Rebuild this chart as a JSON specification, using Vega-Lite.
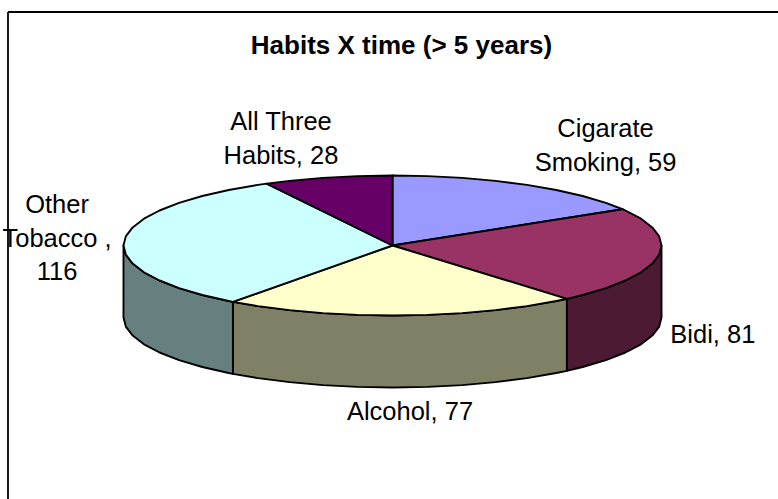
{
  "$schema": "https://vega.github.io/schema/vega-lite/v6.json",
  "width": 770.5,
  "height": 487.5,
  "padding": {"left": 7.5, "top": 11.5, "right": 0, "bottom": 0},
  "autosize": {"type": "none"},
  "background": "white",
  "config": {"view": {"stroke": null}},
  "title": {
    "text": "Habits X time (> 5 years)",
    "font": "Liberation Sans",
    "fontSize": 26,
    "fontWeight": "bold",
    "color": "black",
    "anchor": "middle",
    "frame": "group",
    "baseline": "alphabetic",
    "dx": 8.75,
    "dy": 25,
    "offset": -43.5
  },
  "datasets": {
    "outline": [
      {"piece":"Bidi wall","i":1,"x":1,"y":0},{"piece":"Bidi wall","i":2,"x":0.9914,"y":-0.1305},{"piece":"Bidi wall","i":3,"x":0.9659,"y":-0.2588},{"piece":"Bidi wall","i":4,"x":0.9239,"y":-0.3827},{"piece":"Bidi wall","i":5,"x":0.866,"y":-0.5},{"piece":"Bidi wall","i":6,"x":0.7934,"y":-0.6088},{"piece":"Bidi wall","i":7,"x":0.7071,"y":-0.7071},{"piece":"Bidi wall","i":8,"x":0.6481,"y":-0.7615},
      {"piece":"Bidi wall","i":9,"x":0.6481,"y":-1.7901},{"piece":"Bidi wall","i":10,"x":0.7071,"y":-1.7357},{"piece":"Bidi wall","i":11,"x":0.7934,"y":-1.6374},{"piece":"Bidi wall","i":12,"x":0.866,"y":-1.5286},{"piece":"Bidi wall","i":13,"x":0.9239,"y":-1.4113},{"piece":"Bidi wall","i":14,"x":0.9659,"y":-1.2874},{"piece":"Bidi wall","i":15,"x":0.9914,"y":-1.1591},{"piece":"Bidi wall","i":16,"x":1,"y":-1.0286},{"piece":"Bidi wall","i":17,"x":1,"y":0},

      {"piece":"Alcohol wall","i":1,"x":0.6481,"y":-0.7615},{"piece":"Alcohol wall","i":2,"x":0.6088,"y":-0.7934},{"piece":"Alcohol wall","i":3,"x":0.5,"y":-0.866},{"piece":"Alcohol wall","i":4,"x":0.3827,"y":-0.9239},{"piece":"Alcohol wall","i":5,"x":0.2588,"y":-0.9659},{"piece":"Alcohol wall","i":6,"x":0.1305,"y":-0.9914},{"piece":"Alcohol wall","i":7,"x":0,"y":-1},{"piece":"Alcohol wall","i":8,"x":-0.1305,"y":-0.9914},{"piece":"Alcohol wall","i":9,"x":-0.2588,"y":-0.9659},{"piece":"Alcohol wall","i":10,"x":-0.3827,"y":-0.9239},{"piece":"Alcohol wall","i":11,"x":-0.5,"y":-0.866},{"piece":"Alcohol wall","i":12,"x":-0.5934,"y":-0.8049},
      {"piece":"Alcohol wall","i":13,"x":-0.5934,"y":-1.8335},{"piece":"Alcohol wall","i":14,"x":-0.5,"y":-1.8946},{"piece":"Alcohol wall","i":15,"x":-0.3827,"y":-1.9525},{"piece":"Alcohol wall","i":16,"x":-0.2588,"y":-1.9945},{"piece":"Alcohol wall","i":17,"x":-0.1305,"y":-2.02},{"piece":"Alcohol wall","i":18,"x":0,"y":-2.0286},{"piece":"Alcohol wall","i":19,"x":0.1305,"y":-2.02},{"piece":"Alcohol wall","i":20,"x":0.2588,"y":-1.9945},{"piece":"Alcohol wall","i":21,"x":0.3827,"y":-1.9525},{"piece":"Alcohol wall","i":22,"x":0.5,"y":-1.8946},{"piece":"Alcohol wall","i":23,"x":0.6088,"y":-1.822},{"piece":"Alcohol wall","i":24,"x":0.6481,"y":-1.7901},{"piece":"Alcohol wall","i":25,"x":0.6481,"y":-0.7615},

      {"piece":"Other wall","i":1,"x":-0.5934,"y":-0.8049},{"piece":"Other wall","i":2,"x":-0.6088,"y":-0.7934},{"piece":"Other wall","i":3,"x":-0.7071,"y":-0.7071},{"piece":"Other wall","i":4,"x":-0.7934,"y":-0.6088},{"piece":"Other wall","i":5,"x":-0.866,"y":-0.5},{"piece":"Other wall","i":6,"x":-0.9239,"y":-0.3827},{"piece":"Other wall","i":7,"x":-0.9659,"y":-0.2588},{"piece":"Other wall","i":8,"x":-0.9914,"y":-0.1305},{"piece":"Other wall","i":9,"x":-1,"y":0},
      {"piece":"Other wall","i":10,"x":-1,"y":-1.0286},{"piece":"Other wall","i":11,"x":-0.9914,"y":-1.1591},{"piece":"Other wall","i":12,"x":-0.9659,"y":-1.2874},{"piece":"Other wall","i":13,"x":-0.9239,"y":-1.4113},{"piece":"Other wall","i":14,"x":-0.866,"y":-1.5286},{"piece":"Other wall","i":15,"x":-0.7934,"y":-1.6374},{"piece":"Other wall","i":16,"x":-0.7071,"y":-1.7357},{"piece":"Other wall","i":17,"x":-0.6088,"y":-1.822},{"piece":"Other wall","i":18,"x":-0.5934,"y":-1.8335},{"piece":"Other wall","i":19,"x":-0.5934,"y":-0.8049},

      {"piece":"Cigarate Smoking","i":0,"x":0,"y":0},{"piece":"Cigarate Smoking","i":1,"x":0,"y":1},{"piece":"Cigarate Smoking","i":2,"x":0.1305,"y":0.9914},{"piece":"Cigarate Smoking","i":3,"x":0.2588,"y":0.9659},{"piece":"Cigarate Smoking","i":4,"x":0.3827,"y":0.9239},{"piece":"Cigarate Smoking","i":5,"x":0.5,"y":0.866},{"piece":"Cigarate Smoking","i":6,"x":0.6088,"y":0.7934},{"piece":"Cigarate Smoking","i":7,"x":0.7071,"y":0.7071},{"piece":"Cigarate Smoking","i":8,"x":0.7934,"y":0.6088},{"piece":"Cigarate Smoking","i":9,"x":0.8554,"y":0.518},{"piece":"Cigarate Smoking","i":10,"x":0,"y":0},

      {"piece":"Bidi","i":0,"x":0,"y":0},{"piece":"Bidi","i":1,"x":0.8554,"y":0.518},{"piece":"Bidi","i":2,"x":0.866,"y":0.5},{"piece":"Bidi","i":3,"x":0.9239,"y":0.3827},{"piece":"Bidi","i":4,"x":0.9659,"y":0.2588},{"piece":"Bidi","i":5,"x":0.9914,"y":0.1305},{"piece":"Bidi","i":6,"x":1,"y":0},{"piece":"Bidi","i":7,"x":0.9914,"y":-0.1305},{"piece":"Bidi","i":8,"x":0.9659,"y":-0.2588},{"piece":"Bidi","i":9,"x":0.9239,"y":-0.3827},{"piece":"Bidi","i":10,"x":0.866,"y":-0.5},{"piece":"Bidi","i":11,"x":0.7934,"y":-0.6088},{"piece":"Bidi","i":12,"x":0.7071,"y":-0.7071},{"piece":"Bidi","i":13,"x":0.6481,"y":-0.7615},{"piece":"Bidi","i":14,"x":0,"y":0},

      {"piece":"Alcohol","i":0,"x":0,"y":0},{"piece":"Alcohol","i":1,"x":0.6481,"y":-0.7615},{"piece":"Alcohol","i":2,"x":0.6088,"y":-0.7934},{"piece":"Alcohol","i":3,"x":0.5,"y":-0.866},{"piece":"Alcohol","i":4,"x":0.3827,"y":-0.9239},{"piece":"Alcohol","i":5,"x":0.2588,"y":-0.9659},{"piece":"Alcohol","i":6,"x":0.1305,"y":-0.9914},{"piece":"Alcohol","i":7,"x":0,"y":-1},{"piece":"Alcohol","i":8,"x":-0.1305,"y":-0.9914},{"piece":"Alcohol","i":9,"x":-0.2588,"y":-0.9659},{"piece":"Alcohol","i":10,"x":-0.3827,"y":-0.9239},{"piece":"Alcohol","i":11,"x":-0.5,"y":-0.866},{"piece":"Alcohol","i":12,"x":-0.5934,"y":-0.8049},{"piece":"Alcohol","i":13,"x":0,"y":0},

      {"piece":"Other Tobacco","i":0,"x":0,"y":0},{"piece":"Other Tobacco","i":1,"x":-0.5934,"y":-0.8049},{"piece":"Other Tobacco","i":2,"x":-0.6088,"y":-0.7934},{"piece":"Other Tobacco","i":3,"x":-0.7071,"y":-0.7071},{"piece":"Other Tobacco","i":4,"x":-0.7934,"y":-0.6088},{"piece":"Other Tobacco","i":5,"x":-0.866,"y":-0.5},{"piece":"Other Tobacco","i":6,"x":-0.9239,"y":-0.3827},{"piece":"Other Tobacco","i":7,"x":-0.9659,"y":-0.2588},{"piece":"Other Tobacco","i":8,"x":-0.9914,"y":-0.1305},{"piece":"Other Tobacco","i":9,"x":-1,"y":0},{"piece":"Other Tobacco","i":10,"x":-0.9914,"y":0.1305},{"piece":"Other Tobacco","i":11,"x":-0.9659,"y":0.2588},{"piece":"Other Tobacco","i":12,"x":-0.9239,"y":0.3827},{"piece":"Other Tobacco","i":13,"x":-0.866,"y":0.5},{"piece":"Other Tobacco","i":14,"x":-0.7934,"y":0.6088},{"piece":"Other Tobacco","i":15,"x":-0.7071,"y":0.7071},{"piece":"Other Tobacco","i":16,"x":-0.6088,"y":0.7934},{"piece":"Other Tobacco","i":17,"x":-0.5,"y":0.866},{"piece":"Other Tobacco","i":18,"x":-0.4679,"y":0.8838},{"piece":"Other Tobacco","i":19,"x":0,"y":0},

      {"piece":"All Three Habits","i":0,"x":0,"y":0},{"piece":"All Three Habits","i":1,"x":-0.4679,"y":0.8838},{"piece":"All Three Habits","i":2,"x":-0.3827,"y":0.9239},{"piece":"All Three Habits","i":3,"x":-0.2588,"y":0.9659},{"piece":"All Three Habits","i":4,"x":-0.1305,"y":0.9914},{"piece":"All Three Habits","i":5,"x":0,"y":1},{"piece":"All Three Habits","i":6,"x":0,"y":0}
    ],
    "labels": [
      {"label":"All Three\nHabits, 28","x":-0.4145,"y":1.65},
      {"label":"Other\nTobacco ,\n116","x":-1.247,"y":0.464},
      {"label":"Cigarate\nSmoking, 59","x":0.792,"y":1.55},
      {"label":"Bidi, 81","x":1.191,"y":-1.393},
      {"label":"Alcohol, 77","x":0.065,"y":-2.493}
    ]
  },
  "encoding": {
    "x": {
      "field": "x",
      "type": "quantitative",
      "scale": {"domain": [-1.4312, 1.4331], "nice": false, "zero": false},
      "axis": {"orient": "top", "title": null, "ticks": false, "labels": false, "grid": false, "domain": true, "domainColor": "black", "domainWidth": 1.8}
    },
    "y": {
      "field": "y",
      "type": "quantitative",
      "scale": {"domain": [-3.6214, 3.3429], "nice": false, "zero": false},
      "axis": {"orient": "left", "title": null, "ticks": false, "labels": false, "grid": false, "domain": true, "domainColor": "black", "domainWidth": 1.8}
    }
  },
  "layer": [
    {
      "data": {"name": "outline"},
      "mark": {"type": "line", "stroke": "black", "strokeWidth": 1.9, "strokeJoin": "round"},
      "encoding": {
        "order": {"field": "i", "type": "quantitative"},
        "fill": {
          "field": "piece",
          "type": "nominal",
          "legend": null,
          "scale": {
            "domain": ["Cigarate Smoking", "Bidi", "Alcohol", "Other Tobacco", "All Three Habits", "Bidi wall", "Alcohol wall", "Other wall"],
            "range": ["#9999FF", "#993366", "#FFFFCC", "#CCFFFF", "#660066", "#4D1A33", "#808066", "#668080"]
          }
        }
      }
    },
    {
      "data": {"name": "labels"},
      "mark": {"type": "text", "font": "Liberation Sans", "fontSize": 25.5, "color": "black", "align": "center", "baseline": "alphabetic", "lineBreak": "\n", "lineHeight": 33.5},
      "encoding": {"text": {"field": "label", "type": "nominal"}}
    }
  ]
}
